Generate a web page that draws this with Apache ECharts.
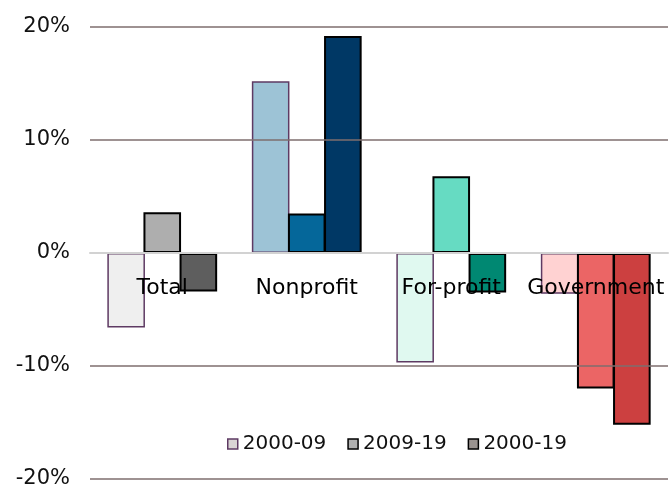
<!DOCTYPE html>
<html>
<head>
<meta charset="utf-8">
<script src="https://cdn.jsdelivr.net/npm/echarts@6/dist/echarts.min.js"></script>
<style>
  html, body { margin: 0; padding: 0; background: #fff; }
  #chart { width: 670px; height: 484px; }
</style>
</head>
<body>
<div id="chart"></div>
<script>
const categories = ['Total', 'Nonprofit', 'For-profit', 'Government']
const seriesNames = ['2000-09', '2009-19', '2000-19']
const change0009 = [-6.6, 15.2, -9.7, -3.6]
const change0919 = [3.6, 3.5, 6.8, -12.0]
const change0019 = [-3.4, 19.2, -3.5, -15.2]
const yTicks = [-20, -10, 0, 10, 20]

// colours per category, one row per period
const fills = [
  ['#efefef', '#9dc3d6', '#e0f9f0', '#ffd2d2'],
  ['#aeaeae', '#05679a', '#66dbc2', '#eb6565'],
  ['#5e5e5e', '#003865', '#008872', '#cc4040']
]
const legendFills = ['#d9d4d4', '#b0b0b0', '#9a9390']
const borders = ['#5e3a63', '#000', '#000']
const font = 'DejaVu Sans'

const chart = echarts.init(document.getElementById('chart'))

const values = [change0009, change0919, change0019]
const series = seriesNames.map((name, i) => ({
  name: name,
  type: 'bar',
  barGap: '-4%',
  barCategoryGap: '24%',
  itemStyle: {
    color: legendFills[i],
    borderColor: borders[i],
    borderWidth: i === 0 ? 1.5 : 2
  },
  data: values[i].map((v, j) => ({
    value: v,
    itemStyle: { color: fills[i][j] }
  }))
}))

// category names sit just under the zero line, over the bars
series.push({
  type: 'scatter',
  symbolSize: 1,
  itemStyle: { color: '#fff', opacity: 0 },
  z: 10,
  silent: true,
  label: {
    show: true,
    position: 'bottom',
    distance: 24,
    fontFamily: font,
    fontSize: 22,
    color: '#000',
    opacity: 1,
    textBorderWidth: 0,
    formatter: p => p.name
  },
  data: categories.map(c => [c, 0])
})

chart.setOption({
  animation: false,
  textStyle: { fontFamily: font },
  grid: { left: 90, right: 2, top: 27, bottom: 5, outerBoundsMode: 'none', containLabel: false },
  legend: {
    top: 429,
    left: 222,
    icon: 'rect',
    itemWidth: 10,
    itemHeight: 10,
    itemGap: 21,
    textStyle: { fontFamily: font, fontSize: 20, color: '#111' },
    data: seriesNames.map((n, i) => ({
      name: n,
      itemStyle: { color: legendFills[i], borderColor: borders[i], borderWidth: 1.5 }
    }))
  },
  xAxis: {
    type: 'category',
    data: categories,
    z: 5,
    axisLine: { onZero: true, lineStyle: { color: '#d2d2d2', width: 2 } },
    axisTick: { show: false },
    axisLabel: { show: false }
  },
  yAxis: {
    type: 'value',
    min: yTicks[0],
    max: yTicks[yTicks.length - 1],
    interval: 10,
    z: 4,
    axisLine: { show: false },
    axisTick: { show: false },
    axisLabel: {
      margin: 20, fontSize: 21, color: '#111', fontFamily: font,
      formatter: v => v + '%'
    },
    splitLine: { lineStyle: { color: 'rgba(125,110,110,0.75)', width: 2 } }
  },
  series: series
})
</script>
</body>
</html>
